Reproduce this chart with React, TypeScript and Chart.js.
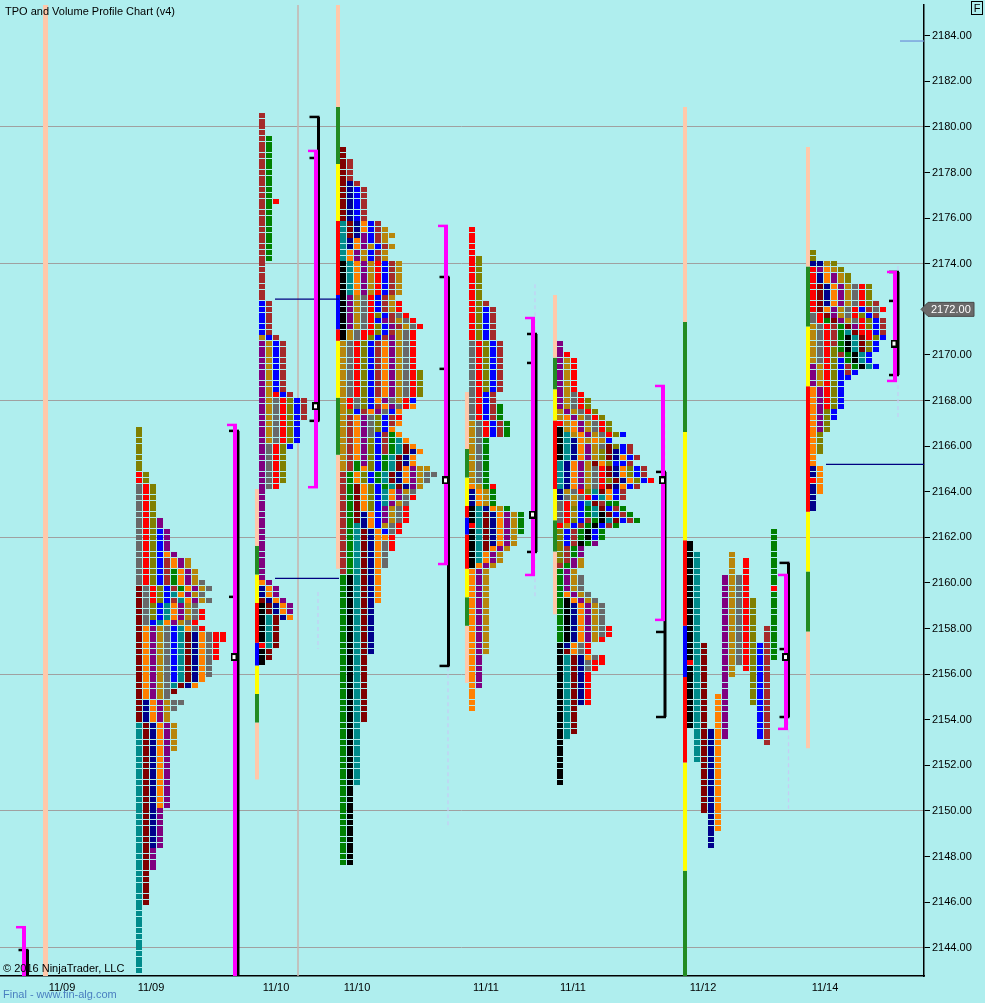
import { useEffect, useRef } from 'react'
import { Chart, registerables, type ChartConfiguration, type Plugin } from 'chart.js'

Chart.register(...registerables)

// TPO and Volume Profile Chart (v4): six collapsed profiles, one split profile

const COLORS: Record<string, string> = {
  M: '#800000', A: '#696969', R: '#ff0000', O: '#808000', B: '#0000ff', N: '#00008b',
  P: '#800080', W: '#a52a2a', E: '#ff8000', G: '#008000', T: '#008b8b', D: '#b8860b',
  K: '#000000', S: '#ffc8aa', Y: '#ffff00', F: '#228b22',
}

const Y_MIN = 2142.76
const Y_MAX = 2185.35
const X_MAX = 924
const TICK = 0.25
const COL_W = 7
const LAST_PRICE = 2172

const DATE_POS = [62, 151, 276, 357, 486, 573, 703, 825]
const DATE_LABELS = ['11/09', '11/09', '11/10', '11/10', '11/11', '11/11', '11/12', '11/14']

// collapsed profiles: [rows, colours left to right], top row first
const PROFILE_A: [number, string][] = [
  [8, 'O'], [2, 'RO'], [6, 'ARO'], [2, 'AROP'], [4, 'AROBP'], [1, 'AROBEP'], [2, 'AROBWEPD'],
  [2, 'AROBWGEPD'], [1, 'AROBWGEPDA'], [1, 'MAROBWGEPDA'], [1, 'MAROBTEPDA'],
  [1, 'MAROBWTEPDA'], [1, 'MAOBTEPDA'], [2, 'MAOBTEPDAR'], [1, 'MABTEPDAR'], [1, 'MEPDABTEAR'],
  [2, 'MEPDABTMNEARR'], [3, 'MEPDABTMNEAR'], [3, 'MEPDABTMNEA'], [1, 'MEPDABTMNE'],
  [1, 'MEPDATMNE'], [1, 'MEPDAM'], [1, 'MEPDA'], [1, 'MNEPDAA'], [1, 'MNEPDA'], [2, 'MNEPD'],
  [5, 'TMNEPD'], [10, 'TMNEP'], [7, 'TMNP'], [4, 'TMP'], [6, 'TM'], [12, 'T'],
]
const PROFILE_B: [number, string][] = [
  [4, 'W'], [11, 'WG'], [1, 'WGR'], [10, 'WG'], [7, 'W'], [6, 'BW'], [1, 'DBW'], [9, 'PDBW'],
  [1, 'PDRBW'], [4, 'PDAROBW'], [4, 'PDAROB'], [1, 'PAROB'], [6, 'PARO'], [1, 'PAR'], [16, 'P'],
  [1, 'EP'], [2, 'NEP'], [1, 'MNEP'], [2, 'KMNEP'], [1, 'KTMNE'], [4, 'KTM'], [1, 'RTM'],
  [2, 'KM'], [1, 'K'],
]
const PROFILE_C: [number, string][] = [
  [2, 'M'], [4, 'MW'], [1, 'MNW'], [6, 'MNBW'], [1, 'TMNEBW'], [1, 'TMNEBWD'], [1, 'TMNPBWDD'],
  [1, 'TNEPBWD'], [1, 'TNEPDBWD'], [2, 'TEPDBWD'], [6, 'KTEPDRBWD'], [1, 'KPDARBWD'],
  [2, 'KPDARBWDR'], [1, 'KPDAROBWAR'], [1, 'KPDARBPWDAR'], [1, 'KPDAROBPWDAR'],
  [1, 'KDARROBWDAR'], [1, 'KDAROBWPDAR'], [5, 'DAROBWEPDAR'], [5, 'DAROBWEPDARO'],
  [1, 'DRAOBEPADRB'], [1, 'DRAOBWEPARE'], [1, 'DOBWEPABE'], [1, 'DWEPAOBWR'], [1, 'DWEPAOBWE'],
  [1, 'DWEPAOBE'], [1, 'DWEPABWGE'], [1, 'DWEPOBWGTE'], [1, 'DWEPOBWGTME'], [1, 'DWEPOBWGTMNE'],
  [1, 'DWEPOBGTMNE'], [1, 'DWGPOBGTMNE'], [1, 'DWGEOBGTMEPDD'], [1, 'WGEOBGTMNEPDAA'],
  [1, 'WGEOBGTMNEPDA'], [1, 'WGMEOBGTMNPD'], [1, 'WGMEOBTEPDA'], [1, 'WGMEOBTEPAR'],
  [1, 'WGMEOBTPDA'], [1, 'WGMEOBPDAR'], [2, 'WGMNEBPDAR'], [1, 'WGTNEBDAR'], [1, 'WGTMNEBAR'],
  [1, 'WGTMNEER'], [2, 'WGTMNEAR'], [3, 'WGTMNEA'], [1, 'WGTMNE'], [5, 'GKTMNE'], [9, 'GKTMN'],
  [12, 'GKTM'], [11, 'GKT'], [14, 'GK'],
]
const PROFILE_D: [number, string][] = [
  [5, 'R'], [8, 'RO'], [1, 'ROW'], [6, 'ROBW'], [9, 'AROBW'], [2, 'ARBW'], [3, 'ARBWG'],
  [3, 'DARBWG'], [8, 'DAG'], [1, 'EDGR'], [3, 'NEDG'], [1, 'KTNEDG'], [2, 'KTMNEPDG'],
  [1, 'RTMNEPDG'], [1, 'KTMNEPDG'], [2, 'KTMNEPD'], [1, 'KTMEPD'], [2, 'KTEPD'], [1, 'KEPD'],
  [15, 'EPD'], [6, 'EP'], [4, 'E'],
]
const PROFILE_E: [number, string][] = [
  [2, 'P'], [1, 'PR'], [6, 'PDR'], [1, 'PDAR'], [2, 'PDARO'], [1, 'DPDARO'], [1, 'DEPDARO'],
  [1, 'RDEPDARO'], [1, 'KDEPDARO'], [1, 'KTDEPDAROB'], [1, 'KTNEDEDB'], [1, 'KTNEPDAMOBW'],
  [1, 'KTNEPDOMNBW'], [1, 'KTNEPDOMNEBW'], [1, 'TNEPDMEOBBW'], [2, 'TNEPDARMNEOBW'],
  [1, 'TNEPDAROMNEOBR'], [1, 'TNEPDARMNEBW'], [1, 'NDAROTMEBW'], [1, 'NADARBTEBW'],
  [1, 'ARDBTMWGG'], [1, 'AROBGTMBWG'], [1, 'ARDBGTKMBWG'], [1, 'AROBWGKTMBWG'], [1, 'RDBWGKBWG'],
  [2, 'OBWGKBG'], [1, 'OBWKGP'], [2, 'OWGP'], [1, 'OWPD'], [1, 'WGPD'], [1, 'GPD'], [3, 'GPDA'],
  [1, 'GEPDA'], [1, 'GKEPDA'], [4, 'GKNEPDA'], [2, 'GKNEPDAR'], [1, 'GKNEPDR'], [1, 'KNEAR'],
  [1, 'KMEAR'], [1, 'KTMNEAR'], [1, 'KTMNARR'], [1, 'KTMNAR'], [6, 'KTMNR'], [5, 'KTM'],
  [1, 'KT'], [8, 'K'],
]
const PROFILE_G: [number, string][] = [
  [2, 'O'], [1, 'NNDO'], [1, 'RPEDO'], [2, 'RNEPDO'], [3, 'RMNEPDARO'], [1, 'RMNEPDAROW'],
  [1, 'RMEPDARBWAR'], [1, 'ARMPDAROBW'], [1, 'ARGMPDAROBW'], [1, 'DARWGMPROBW'],
  [1, 'DARWGTMRRBW'], [1, 'DARWGKTMROB'], [1, 'DARWGKTMOB'], [1, 'DAROGKTMOB'], [1, 'DAROWGKTB'],
  [1, 'DAROBGKTB'], [1, 'PDROBWGKTB'], [1, 'PDROBWB'], [1, 'PDROBB'], [1, 'PDROB'], [4, 'EPROB'],
  [2, 'EPOB'], [2, 'EPO'], [4, 'EO'], [2, 'E'], [2, 'NE'], [1, 'RE'], [2, 'NE'], [3, 'N'],
]
const PROFILE_ROWS = [PROFILE_A, PROFILE_B, PROFILE_C, PROFILE_D, PROFILE_E, PROFILE_G]
const PROFILE_X = [139, 262, 343, 472, 560, 813]
const PROFILE_TOPS = [2166.75, 2180.5, 2179, 2175.5, 2170.5, 2174.5]

// split profile 11/12: one column per period [colour, high, low]
const SPLIT_X0 = 690
const SPLIT_COLS: [string, number, number][] = [
  ['K', 2161.75, 2153.75], ['T', 2161.25, 2152.25], ['M', 2157.25, 2150], ['N', 2153.5, 2148.5],
  ['E', 2155, 2149.25], ['P', 2160.25, 2153.25], ['D', 2161.25, 2156], ['A', 2160.25, 2156.5],
  ['R', 2161, 2156.25], ['O', 2159.25, 2154.75], ['B', 2157.25, 2153.25], ['W', 2158, 2153],
  ['G', 2162.25, 2156.75],
]
const SPLIT_MARKS: [number, string, number][] = [[0, 'R', 2156.5], [12, 'R', 2159.75]]

// opening-range / IB colour bars: x, breaks (top to bottom), colours per segment
const BAR_X = [45.5, 257, 338, 467, 555, 685, 808]
const BAR_BREAKS = [
  [2185.35, 2142.76],
  [2164.125, 2161.625, 2160.375, 2159.125, 2157.375, 2156.375, 2155.125, 2153.875, 2151.375],
  [2185.35, 2180.875, 2178.375, 2175.875, 2172.625, 2171.125, 2170.625, 2168.125, 2165.625, 2160.625],
  [2168.375, 2165.875, 2164.625, 2163.375, 2162.875, 2162.125, 2160.625, 2159.375, 2158.125, 2155.625],
  [2172.625, 2169.875, 2168.5, 2167.125, 2164.125, 2162.75, 2161.375, 2158.625],
  [2180.875, 2171.45, 2166.625, 2161.875, 2158.125, 2155.875, 2152.125, 2147.375, 2142.76],
  [2179.125, 2173.875, 2171.25, 2168.625, 2163.125, 2160.5, 2157.875, 2152.75],
]
const BAR_COLORS = ['S', 'SFYRBYFS', 'SFYRBRYFS', 'SFYRBRYFS', 'SFYRYFS', 'SFYRBRYF', 'SFYRYFS']

// value-area brackets (magenta)
const VA_X = [24, 235, 316, 446, 533, 663, 786, 895]
const VA_HI = [2144.9, 2166.93, 2178.95, 2175.66, 2171.62, 2168.64, 2160.35, 2173.64]
const VA_LO = [2142.5, 2142.5, 2164.2, 2160.83, 2160.35, 2158.38, 2153.6, 2168.86]

// range lines (black) with a middle tick
const RL_X = [27.5, 238, 318.5, 448.5, 536, 665, 788.5, 898]
const RL_HI = [2143.9, 2166.67, 2180.44, 2173.42, 2170.92, 2164.87, 2160.88, 2173.64]
const RL_LO = [2142.5, 2142.5, 2167.11, 2156.36, 2161.36, 2154.12, 2154.12, 2169.12]
const RL_MID = [NaN, 2159.39, 2178.64, 2169.39, 2169.65, 2157.85, 2157.1, 2172.37]

// POC markers
const POC_X = [234, 315.5, 445.5, 532.5, 662.5, 785.5, 894]
const POC_PRICE = [2156.75, 2167.75, 2164.5, 2163, 2164.5, 2156.75, 2170.5]

// naked POC lines: x1, x2, price
const NPOC: [number, number, number][] = [[275, 339, 2172.45], [275, 339, 2160.2], [826, 924, 2165.2]]
const TOP_LINE: [number, number, number] = [900, 924, 2183.77]

// faint dashed volume lines: x, high, low
const DASHED: [number, number, number][] = [
  [318, 2159.6, 2157.1], [448, 2156.3, 2149.3], [535, 2173.1, 2159.4],
  [665, 2167.6, 2165.1], [788.5, 2161, 2150.1], [898, 2173.9, 2167.2],
]
const SESSION_LINE_X = 298

function makeBlock(color: string, w: number, h: number, inner?: string) {
  const c = document.createElement('canvas')
  c.width = w
  c.height = h
  const g = c.getContext('2d')!
  g.fillStyle = color
  g.fillRect(0, 0, w, h)
  if (inner) {
    g.fillStyle = inner
    g.fillRect(2, 2, w - 4, h - 4)
  }
  return c
}

const seg = (pts: { x: number; y: number }[], color: string, width: number, order: number, dash: number[] = []) => ({
  type: 'scatter' as const,
  data: pts,
  showLine: true,
  borderColor: color,
  borderWidth: width,
  borderDash: dash,
  pointRadius: 0,
  order,
})

export default function App() {
  const canvasRef = useRef<HTMLCanvasElement>(null)
  const chartRef = useRef<Chart | null>(null)

  useEffect(() => {
    document.body.style.margin = '0'
    if (!canvasRef.current) return
    if (chartRef.current) { chartRef.current.destroy(); chartRef.current = null }

    // TPO cells, grouped per colour
    const cells: Record<string, { x: number; y: number }[]> = {}
    const put = (k: string, x: number, y: number) => { (cells[k] ??= []).push({ x, y }) }
    PROFILE_ROWS.forEach((rows, p) => {
      let i = 0
      rows.forEach(([n, s]) => {
        for (let r = 0; r < n; r++, i++) {
          const price = PROFILE_TOPS[p] - i * TICK
          for (let j = 0; j < s.length; j++) put(s[j], PROFILE_X[p] + j * COL_W, price)
        }
      })
    })
    const split = new Map<string, string>()
    SPLIT_COLS.forEach(([c, hi, lo], idx) => {
      for (let v = hi; v >= lo - 1e-9; v -= TICK) split.set(idx + '|' + v, c)
    })
    SPLIT_MARKS.forEach(([idx, c, v]) => split.set(idx + '|' + v, c))
    split.forEach((c, key) => {
      const [idx, v] = key.split('|').map(Number)
      put(c, SPLIT_X0 + idx * COL_W, v)
    })

    const datasets: any[] = []

    // POC boxes on top
    const pocImg = makeBlock('#000000', 7, 8, '#ffffff')
    datasets.push({
      type: 'scatter', data: POC_X.map((x, i) => ({ x, y: POC_PRICE[i] })),
      pointStyle: pocImg, pointRadius: 3, order: 0,
    })

    // value-area brackets
    VA_X.forEach((x, i) => {
      datasets.push(seg([{ x, y: VA_HI[i] }, { x, y: VA_LO[i] }], '#ff00ff', 4, 1))
      datasets.push(seg([{ x: x - 8, y: VA_HI[i] }, { x: x + 2, y: VA_HI[i] }], '#ff00ff', 2.5, 1))
      datasets.push(seg([{ x: x - 8, y: VA_LO[i] }, { x: x + 2, y: VA_LO[i] }], '#ff00ff', 2.5, 1))
    })

    // black range lines
    RL_X.forEach((x, i) => {
      datasets.push(seg([{ x, y: RL_HI[i] }, { x, y: RL_LO[i] }], '#000000', 3, 2))
      datasets.push(seg([{ x: x - 9, y: RL_HI[i] }, { x: x + 1, y: RL_HI[i] }], '#000000', 2.5, 2))
      datasets.push(seg([{ x: x - 9, y: RL_LO[i] }, { x: x + 1, y: RL_LO[i] }], '#000000', 2.5, 2))
      if (!isNaN(RL_MID[i])) datasets.push(seg([{ x: x - 9, y: RL_MID[i] }, { x: x + 1, y: RL_MID[i] }], '#000000', 2.5, 2))
    })

    NPOC.forEach(([x1, x2, y]) => datasets.push(seg([{ x: x1, y }, { x: x2, y }], '#000080', 1.2, 2)))
    datasets.push(seg([{ x: TOP_LINE[0], y: TOP_LINE[2] }, { x: TOP_LINE[1], y: TOP_LINE[2] }], '#6f8fd8', 1.2, 2))

    // IB colour bars
    BAR_X.forEach((x, b) => {
      const br = BAR_BREAKS[b]
      for (let s = 0; s < br.length - 1; s++) {
        datasets.push(seg([{ x, y: br[s] }, { x, y: br[s + 1] }], COLORS[BAR_COLORS[b][s]], b === 0 ? 5 : 4, 3))
      }
    })

    // TPO squares
    Object.keys(cells).forEach(k => {
      datasets.push({
        type: 'scatter', data: cells[k], pointStyle: makeBlock(COLORS[k], 6, 5),
        pointRadius: 3, order: 4,
      })
    })

    DASHED.forEach(([x, hi, lo]) => datasets.push(seg([{ x, y: hi }, { x, y: lo }], '#c6cdf5', 1.2, 5, [4, 3])))
    datasets.push(seg([{ x: SESSION_LINE_X, y: Y_MAX }, { x: SESSION_LINE_X, y: Y_MIN }], '#c8b4ae', 1.5, 6))

    const decor: Plugin = {
      id: 'decor',
      beforeDraw(chart) {
        const { ctx, width, height } = chart
        ctx.save()
        ctx.fillStyle = '#afeeee'
        ctx.fillRect(0, 0, width, height)
        ctx.restore()
      },
      afterDraw(chart) {
        const { ctx } = chart
        const yPix = chart.scales.y.getPixelForValue(LAST_PRICE)
        ctx.save()
        ctx.font = '11px "Liberation Sans", Arial, sans-serif'
        ctx.textBaseline = 'middle'
        ctx.fillStyle = '#000000'
        ctx.fillText('TPO and Volume Profile Chart (v4)', 5, 12)
        ctx.fillText('\u00a9 2016 NinjaTrader, LLC', 3, 969)
        ctx.fillStyle = '#4a7fc0'
        ctx.fillText('Final - www.fin-alg.com', 3, 995)

        // F button
        ctx.strokeStyle = '#000000'
        ctx.lineWidth = 1
        ctx.strokeRect(971.5, 1.5, 11, 13)
        ctx.fillStyle = '#000000'
        ctx.textAlign = 'center'
        ctx.fillText('F', 977, 8.5)

        // last price tag
        ctx.beginPath()
        ctx.moveTo(921, yPix)
        ctx.lineTo(928, yPix - 7)
        ctx.lineTo(974, yPix - 7)
        ctx.lineTo(974, yPix + 7)
        ctx.lineTo(928, yPix + 7)
        ctx.closePath()
        ctx.fillStyle = '#6a6a6a'
        ctx.fill()
        ctx.strokeStyle = '#4a4a4a'
        ctx.stroke()
        ctx.fillStyle = '#ffffff'
        ctx.textAlign = 'left'
        ctx.fillText(LAST_PRICE.toFixed(2), 931, yPix + 0.5)
        ctx.restore()
      },
    }

    const config: ChartConfiguration<'scatter'> = {
      type: 'scatter',
      data: { datasets },
      options: {
        responsive: false,
        animation: false,
        events: [],
        layout: { autoPadding: false, padding: { top: 5, left: 0, right: 0, bottom: 0 } },
        plugins: { legend: { display: false }, tooltip: { enabled: false } },
        scales: {
          x: {
            type: 'linear',
            position: 'bottom',
            min: 0,
            max: X_MAX,
            afterBuildTicks: (axis) => { axis.ticks = DATE_POS.map(v => ({ value: v })) },
            afterFit: (s: any) => { s.height = 27; s.paddingLeft = 0; s.paddingRight = 0 },
            grid: { display: true, drawOnChartArea: false, drawTicks: false },
            border: { display: true, color: '#000000', width: 1.5 },
            ticks: {
              autoSkip: false,
              maxRotation: 0,
              padding: 5,
              color: '#000000',
              font: { size: 11, family: '"Liberation Sans", Arial, sans-serif' },
              callback: (_v, i) => DATE_LABELS[i],
            },
          },
          y: {
            type: 'linear',
            position: 'right',
            min: Y_MIN,
            max: Y_MAX,
            afterFit: (s: any) => { s.width = 61; s.paddingTop = 0; s.paddingBottom = 0 },
            grid: {
              drawOnChartArea: true,
              color: (c: any) => (c.tick && Math.abs((((c.tick.value % 6) + 6) % 6) - 2) < 0.01 ? '#a0a0a0' : 'rgba(0,0,0,0)'),
              tickColor: '#000000',
              tickLength: 6,
              lineWidth: 1,
            },
            border: { display: true, color: '#000000', width: 1.5 },
            ticks: {
              stepSize: 2,
              includeBounds: false,
              padding: 2,
              color: '#000000',
              font: { size: 11, family: '"Liberation Sans", Arial, sans-serif' },
              callback: (v) => Number(v).toFixed(2),
            },
          },
        },
      },
      plugins: [decor],
    }
    chartRef.current = new Chart(canvasRef.current, config)
    return () => { chartRef.current?.destroy(); chartRef.current = null }
  }, [])

  return (
    <div style={{ width: 985, height: 1003, position: 'relative' }}>
      <canvas ref={canvasRef} width={985} height={1003} />
    </div>
  )
}
